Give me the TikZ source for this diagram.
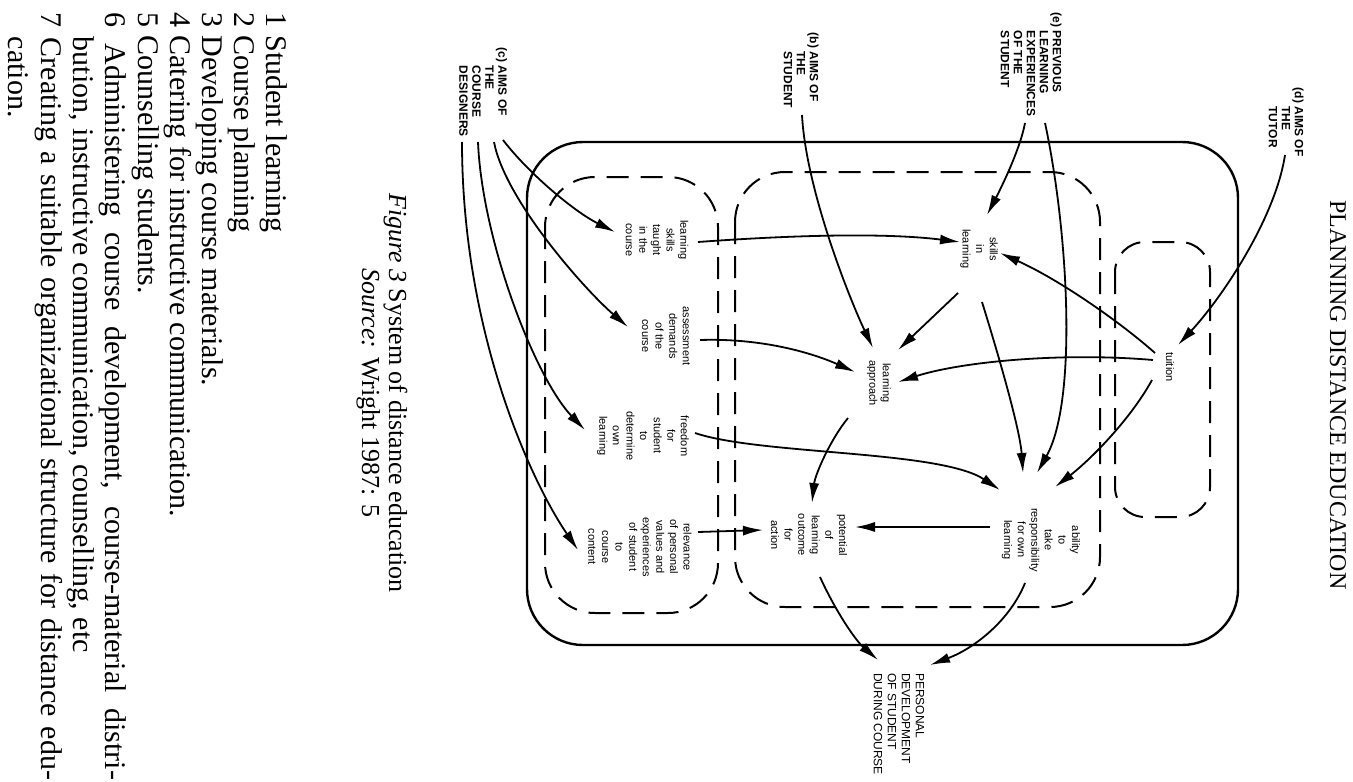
\documentclass[tikz,border=0pt]{standalone}
\usepackage{fontspec}
\setmainfont{Liberation Serif}
\newfontfamily\diagfont{Liberation Sans}
\usetikzlibrary{arrows.meta,calc}
\begin{document}
\begin{tikzpicture}[x=0.5pt,y=0.5pt,
  rot/.style={rotate=-90,inner sep=0pt,outer sep=0pt},
  listtxt/.style={rot,anchor=base west,font=\fontsize{15}{16}\selectfont},
  captxt/.style={rot,anchor=base,font=\fontsize{13}{14}\selectfont},
  lbl/.style={rot,anchor=west,align=left,font=\diagfont\bfseries\fontsize{6}{6.5}\selectfont},
  box/.style={rot,align=center,font=\diagfont\fontsize{5.5}{6.8}\selectfont},
  arr/.style={line width=0.9pt,-{Latex[length=10pt,width=5pt]}},
  frame/.style={line width=1.2pt,rounded corners=28pt},
  grp/.style={line width=1pt,dash pattern=on 11pt off 6pt,rounded corners=25pt}]
\fill[white] (0,0) rectangle (1353,-781);
\useasboundingbox (0,0) rectangle (1353,-781);

% header and caption
\node[rot,anchor=base,font=\fontsize{12}{13}\selectfont] (head) at (1330,-395) {PLANNING DISTANCE EDUCATION};
\node[captxt] (cap1) at (389,-393) {\textit{Figure 3} System of distance education};
\node[captxt] (cap2) at (362,-393) {\textit{Source:} Wright 1987: 5};

% list
\node[listtxt] (l1) at (266,-13) {1 Student learning};
\node[listtxt] (l2) at (234,-13) {2 Course planning};
\node[listtxt] (l3) at (202,-13) {3 Developing course materials.};
\node[listtxt] (l4) at (170,-13) {4 Catering for instructive communication.};
\node[listtxt] (l5) at (138,-13) {5 Counselling students.};
\node[listtxt] (l6) at (105,-13) {\makebox[383.5pt][s]{6 Administering course development, course-material distri-}};
\node[listtxt] (l6b) at (73,-37) {bution, instructive communication, counselling, etc};
\node[listtxt] (l7) at (41,-13) {\makebox[383.5pt][s]{7 Creating a suitable organizational structure for distance edu-}};
\node[listtxt] (l7b) at (9,-37) {cation.};

% frames
\draw[frame] (527,-142) rectangle (1238,-645);
\draw[grp] (545,-177) rectangle (718,-613);
\draw[grp] (735,-172) rectangle (1100,-607);
\draw[grp,rounded corners=15pt] (1115,-242) rectangle (1210,-517);

% source labels
\node[lbl] (C) at (482,-48) {(c) AIMS OF\\\phantom{(c) }THE\\\phantom{(c) }COURSE\\\phantom{(c) }DESIGNERS};
\node[lbl] (B) at (800,-33) {(b) AIMS OF\\\phantom{(b) }THE\\\phantom{(b) }STUDENT};
\node[lbl] (E) at (1030,-13) {(e) PREVIOUS\\\phantom{(e) }LEARNING\\\phantom{(e) }EXPERIENCES\\\phantom{(e) }OF THE\\\phantom{(e) }STUDENT};
\node[lbl] (D) at (1285,-88) {(d) AIMS OF\\\phantom{(d) }THE\\\phantom{(d) }TUTOR};

% boxes
\node[box] (ST) at (657,-240) {learning\\skills\\taught\\in the\\course};
\node[box] (AS) at (666,-336) {assessment\\demands\\of the\\course};
\node[box] (FR) at (643,-436) {freedom\\for\\student\\to\\determine\\own\\learning};
\node[box] (RE) at (640,-547) {relevance\\of personal\\values and\\experiences\\of student\\to\\course\\content};
\node[box] (SI) at (979,-249) {skills\\in\\learning};
\node[box] (AP) at (879,-383) {learning\\approach};
\node[box] (AB) at (1041,-540) {ability\\to\\take\\responsibility\\for own\\learning};
\node[box] (PO) at (809,-535) {potential\\of\\learning\\outcome\\for\\action};
\node[box] (TU) at (1170,-367) {tuition};
\node[rot,anchor=west,align=left,font=\diagfont\fontsize{6}{7}\selectfont] (PE) at (899,-673) {PERSONAL\\DEVELOPMENT\\OF STUDENT\\DURING COURSE};

% connectors
\draw[arr] ($(C.west)+(21,-92)$) .. controls (530,-175) and (575,-212) .. ($(ST)+(-42,8)$);
\draw[arr] ($(C.west)+(12,-94)$) .. controls (505,-200) and (585,-290) .. ($(AS)+(-38,9)$);
\draw[arr] ($(C.west)+(-4,-94)$) .. controls (482,-240) and (535,-378) .. ($(FR)+(-58,6)$);
\draw[arr] ($(C.west)+(-20,-94)$) .. controls (462,-330) and (530,-480) .. ($(RE)+(-62,-3)$);
\draw[arr] ($(B.west)+(2,-82)$) .. controls (806,-190) and (850,-300) .. ($(AP)+(-6,35)$);
\draw[arr] ($(E.west)+(-5,-110)$) .. controls (1020,-150) and (1000,-190) .. ($(SI)+(8,34)$);
\draw[arr] ($(E.west)+(15,-110)$) .. controls (1068,-230) and (1078,-400) .. ($(AB)+(-4,67)$);
\draw[arr] ($(D.west)+(0,-67)$) .. controls (1275,-220) and (1220,-300) .. ($(TU)+(8,22)$);
\draw[arr] ($(ST)+(41,-2)$) .. controls (780,-236) and (880,-232) .. ($(SI)+(-19,7)$);
\draw[arr] ($(AS)+(34,-4)$) .. controls (760,-338) and (810,-352) .. ($(AP)+(-24,11)$);
\draw[arr] ($(FR)+(52,3)$) .. controls (760,-455) and (940,-450) .. ($(AB)+(-41,50)$);
\draw[arr] ($(RE)+(58,15)$) -- ($(PO)+(-46,5)$);
\draw[arr] ($(SI)+(-21,-44)$) -- ($(AP)+(19,33)$);
\draw[arr] ($(SI)+(3,-53)$) .. controls (1000,-360) and (1020,-430) .. ($(AB)+(-18,67)$);
\draw[arr] ($(TU)+(-15,14)$) .. controls (1120,-322) and (1060,-280) .. ($(SI)+(21,-4)$);
\draw[arr] ($(TU)+(-17,7)$) .. controls (1060,-352) and (960,-362) .. ($(AP)+(19,1)$);
\draw[arr] ($(TU)+(-18,-13)$) .. controls (1130,-420) and (1090,-460) .. ($(AB)+(14,53)$);
\draw[arr] ($(AP)+(-31,-35)$) .. controls (830,-440) and (815,-475) .. ($(PO)+(3,32)$);
\draw[arr] ($(AB)+(-51,13)$) -- ($(PO)+(46,8)$);
\draw[arr] ($(AB)+(-16,-43)$) .. controls (1010,-620) and (975,-648) .. ($(PE.west)+(31,8)$);
\draw[arr] ($(PO)+(11,-42)$) .. controls (835,-610) and (855,-640) .. ($(PE.west)+(-21,13)$);
\end{tikzpicture}
\end{document}
